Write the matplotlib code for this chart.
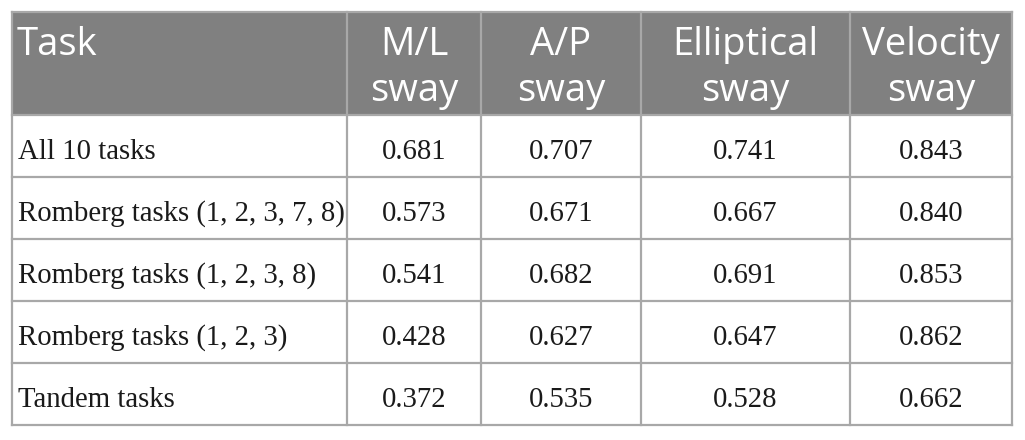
import matplotlib.pyplot as plt
from matplotlib.patches import Rectangle

# table content
header = ["Task", "M/L\nsway", "A/P\nsway", "Elliptical\nsway", "Velocity\nsway"]
tasks = ["All 10 tasks",
         "Romberg tasks (1, 2, 3, 7, 8)",
         "Romberg tasks (1, 2, 3, 8)",
         "Romberg tasks (1, 2, 3)",
         "Tandem tasks"]
ml_sway = [0.681, 0.573, 0.541, 0.428, 0.372]
ap_sway = [0.707, 0.671, 0.682, 0.627, 0.535]
ell_sway = [0.741, 0.667, 0.691, 0.647, 0.528]
vel_sway = [0.843, 0.840, 0.853, 0.862, 0.662]

# layout in pixels
col_edges = [12, 347, 481, 641, 850, 1012]
top, head_bottom, row_h = 12, 115, 62
line_col = "#a8a8a8"
head_bg = "#808080"

fig = plt.figure(figsize=(10.25, 4.4), dpi=100)
ax = fig.add_axes([0, 0, 1, 1])
ax.set_xlim(0, 1025)
ax.set_ylim(440, 0)
ax.axis("off")

n_rows = len(tasks)
bottom = head_bottom + n_rows * row_h

# header background
ax.add_patch(Rectangle((col_edges[0], top), col_edges[-1] - col_edges[0],
                       head_bottom - top, facecolor=head_bg, edgecolor="none"))

# grid lines
for x in col_edges:
    ax.plot([x, x], [top, bottom], color=line_col, lw=1.6, solid_capstyle="projecting")
for y in [top, head_bottom] + [head_bottom + (i + 1) * row_h for i in range(n_rows)]:
    ax.plot([col_edges[0], col_edges[-1]], [y, y], color=line_col, lw=1.6,
            solid_capstyle="projecting")

# header text
for j, h in enumerate(header):
    lines = h.split("\n")
    for k, ln in enumerate(lines):
        yb = 55 + k * 46
        if j == 0:
            ax.text(col_edges[0] + 5, yb, ln, ha="left", va="baseline", color="white",
                    fontsize=27.5, family="Open Sans")
        else:
            xc = (col_edges[j] + col_edges[j + 1]) / 2
            ax.text(xc, yb, ln, ha="center", va="baseline", color="white",
                    fontsize=27.5, family="Open Sans")

# body
cols = [ml_sway, ap_sway, ell_sway, vel_sway]
for i, t in enumerate(tasks):
    yb = head_bottom + i * row_h + 44
    ax.text(col_edges[0] + 6, yb, t, ha="left", va="baseline", color="#1a1a1a",
            fontsize=20.7, family="Liberation Serif")
    for j, vals in enumerate(cols):
        xc = (col_edges[j + 1] + col_edges[j + 2]) / 2
        ax.text(xc, yb, "%.3f" % vals[i], ha="center", va="baseline", color="#1a1a1a",
                fontsize=20.7, family="Liberation Serif")

fig.savefig("out.png", dpi=100, facecolor="white")
